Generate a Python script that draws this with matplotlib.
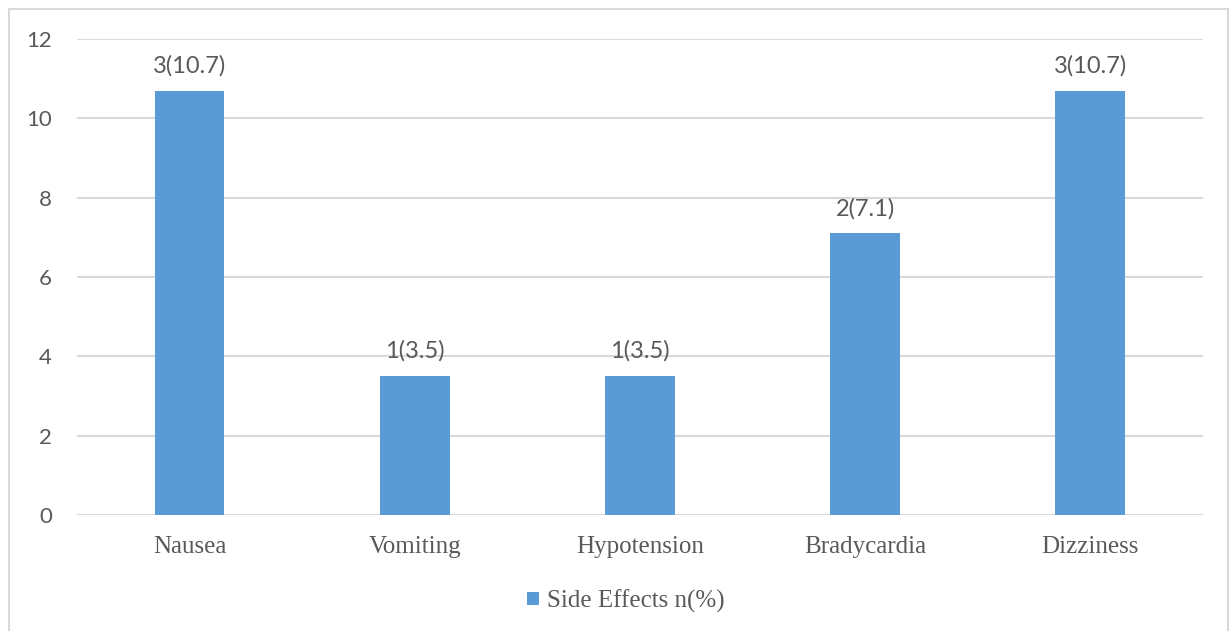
import matplotlib.pyplot as plt
from matplotlib.patches import Rectangle

effects = ["Nausea", "Vomiting", "Hypotension", "Bradycardia", "Dizziness"]
percent = [10.7, 3.5, 3.5, 7.1, 10.7]
counts = [3, 1, 1, 2, 3]
yticks = [0, 2, 4, 6, 8, 10, 12]

fig = plt.figure(figsize=(12.3, 6.31), dpi=100)
ax = fig.add_axes([0.0626, 0.1838, 0.9154, 0.7542])

# light frame around the whole chart
fig.patches.append(Rectangle((9 / 1230, -0.01), 1219 / 1230, 1 - 9 / 631 + 0.01,
                             transform=fig.transFigure, fill=False,
                             edgecolor="#d9d9d9", linewidth=1.5))

x = range(len(effects))
bars = ax.bar(x, percent, width=0.31, color="#5b9bd5", zorder=3,
              label="Side Effects n(%)")

for xi, p, n in zip(x, percent, counts):
    ax.text(xi, p + 0.36, f"{n}({p})", ha="center", va="bottom",
            fontsize=17, family="Lato", color="#595959")

ax.set_xlim(-0.5, 4.5)
ax.set_ylim(0, 12)
ax.set_yticks(yticks)
ax.set_yticklabels([str(t) for t in yticks], family="Lato", fontsize=16,
                   color="#595959")
ax.set_xticks(list(x))
ax.set_xticklabels(effects, family="Liberation Serif", fontsize=18,
                   color="#595959")
ax.tick_params(length=0)
ax.tick_params(axis="x", pad=15)
ax.tick_params(axis="y", pad=18)
ax.grid(axis="y", color="#d9d9d9", linewidth=1.5, zorder=0)
for s in ax.spines.values():
    s.set_visible(False)

leg = fig.legend(loc="center", bbox_to_anchor=(0.509, 0.047), frameon=False,
                 handlelength=0.45, handleheight=0.45, handletextpad=0.35,
                 prop={"family": "Liberation Serif", "size": 18})
for t in leg.get_texts():
    t.set_color("#595959")

fig.savefig("out.png", dpi=100)
